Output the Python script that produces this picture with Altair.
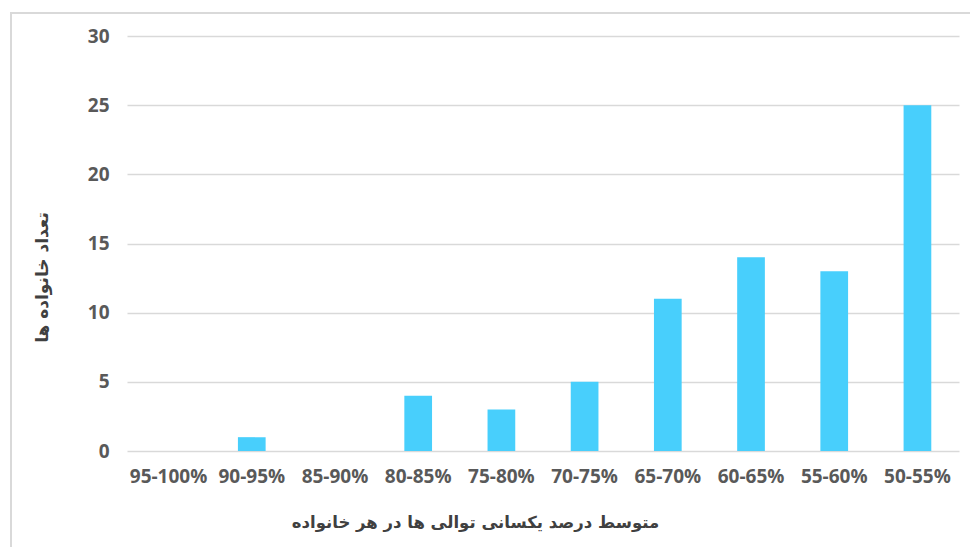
import altair as alt
import pandas as pd

categories = ["95-100%", "90-95%", "85-90%", "80-85%", "75-80%",
              "70-75%", "65-70%", "60-65%", "55-60%", "50-55%"]
counts = [0, 1, 0, 4, 3, 5, 11, 14, 13, 25]
y_ticks = [0, 5, 10, 15, 20, 25, 30]

df = pd.DataFrame({"cat": categories, "count": counts})

bars = alt.Chart(df).mark_bar(color="#48CFFC").encode(
    x=alt.X("cat:N", sort=categories,
            scale=alt.Scale(paddingInner=0.667, paddingOuter=0.333),
            axis=alt.Axis(title="متوسط درصد یکسانی توالی ها در هر خانواده",
                          labelAngle=0, labelFontSize=19, labelFontWeight="bold",
                          labelColor="#595959", labelPadding=16,
                          domain=False, ticks=False, grid=False,
                          titleFontSize=16.5, titleFontWeight="bold",
                          titleColor="#404040", titlePadding=28,
                          titleX=348, titleAnchor="middle",
                          labelFont="Open Sans", titleFont="DejaVu Sans")),
    y=alt.Y("count:Q", scale=alt.Scale(domain=[0, 30]),
            axis=alt.Axis(title="تعداد خانواده ها", values=y_ticks,
                          labelFontSize=19, labelFontWeight="bold",
                          labelColor="#595959", labelPadding=18,
                          domain=False, ticks=False,
                          gridColor="#d9d9d9", gridWidth=1.3,
                          titleFontSize=17, titleFontWeight="bold",
                          titleColor="#404040", titleX=-76, titleY=241,
                          labelFont="Open Sans", titleFont="DejaVu Sans")),
)

frame = alt.Chart(pd.DataFrame({"a": [0]})).mark_rect(
    fill=None, stroke="#d9d9d9", strokeWidth=2
).encode(x=alt.value(-116), x2=alt.value(900), y=alt.value(-23), y2=alt.value(600))

chart = alt.layer(frame, bars).properties(
    width=832, height=415,
    autosize=alt.AutoSizeParams(type="none"),
    padding={"left": 127, "top": 36, "right": 11, "bottom": 96},
    background="white",
).configure_view(stroke=None)

chart.save("out.html", embed_options={"renderer": "svg", "actions": False})
